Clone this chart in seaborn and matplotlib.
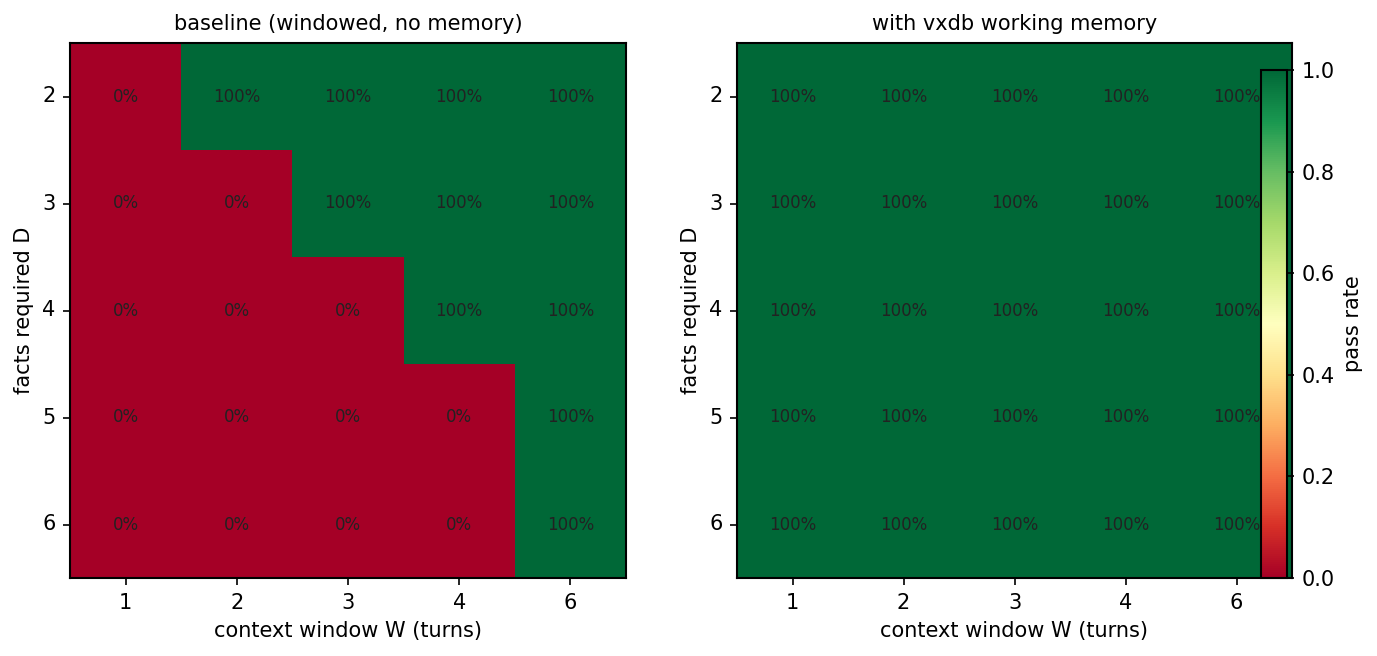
import numpy as np
import seaborn as sns
from matplotlib import pyplot as plt

windows = [1, 2, 3, 4, 6]
facts = [2, 3, 4, 5, 6]

baseline = [
    [0, 1, 1, 1, 1],
    [0, 0, 1, 1, 1],
    [0, 0, 0, 1, 1],
    [0, 0, 0, 0, 1],
    [0, 0, 0, 0, 1],
]
vxdb = [
    [1, 1, 1, 1, 1],
    [1, 1, 1, 1, 1],
    [1, 1, 1, 1, 1],
    [1, 1, 1, 1, 1],
    [1, 1, 1, 1, 1],
]

fig = plt.figure(figsize=(1377 / 150, 656 / 150), dpi=150)
ax1 = fig.add_axes([70 / 1377, 78 / 656, 556 / 1377, 535 / 656])
ax2 = fig.add_axes([737 / 1377, 78 / 656, 555 / 1377, 535 / 656])
cax = fig.add_axes([1261 / 1377, 78 / 656, 26 / 1377, 508 / 656])

panels = [(ax1, baseline, 'baseline (windowed, no memory)'),
          (ax2, vxdb, 'with vxdb working memory')]

for i, (ax, data, title) in enumerate(panels):
    arr = np.array(data, dtype=float)
    labels = np.array([[f'{v * 100:.0f}%' for v in row] for row in arr])
    sns.heatmap(arr, ax=ax, cmap='RdYlGn', vmin=0, vmax=1,
                annot=labels, fmt='', annot_kws={'fontsize': 8, 'color': '#222222'},
                cbar=(i == 1), cbar_ax=cax if i == 1 else None,
                cbar_kws={'label': 'pass rate'},
                xticklabels=windows, yticklabels=facts)
    for s in ax.spines.values():
        s.set_visible(True)
        s.set_color('black')
        s.set_linewidth(1)
    ax.tick_params(axis='both', labelsize=10, length=3.5)
    ax.set_yticklabels(facts, rotation=0)
    ax.set_xticklabels(windows, rotation=0)
    ax.set_title(title, fontsize=10)
    ax.set_xlabel('context window W (turns)', fontsize=10)
    ax.set_ylabel('facts required D', fontsize=10)

cax.tick_params(labelsize=10)
cax.yaxis.label.set_size(10)
cb = ax2.collections[0].colorbar
cb.outline.set_visible(True)
cb.outline.set_edgecolor('black')
cb.outline.set_linewidth(1)
cb.set_ticks([0, 0.2, 0.4, 0.6, 0.8, 1.0])

fig.savefig('out.png', dpi=150)
